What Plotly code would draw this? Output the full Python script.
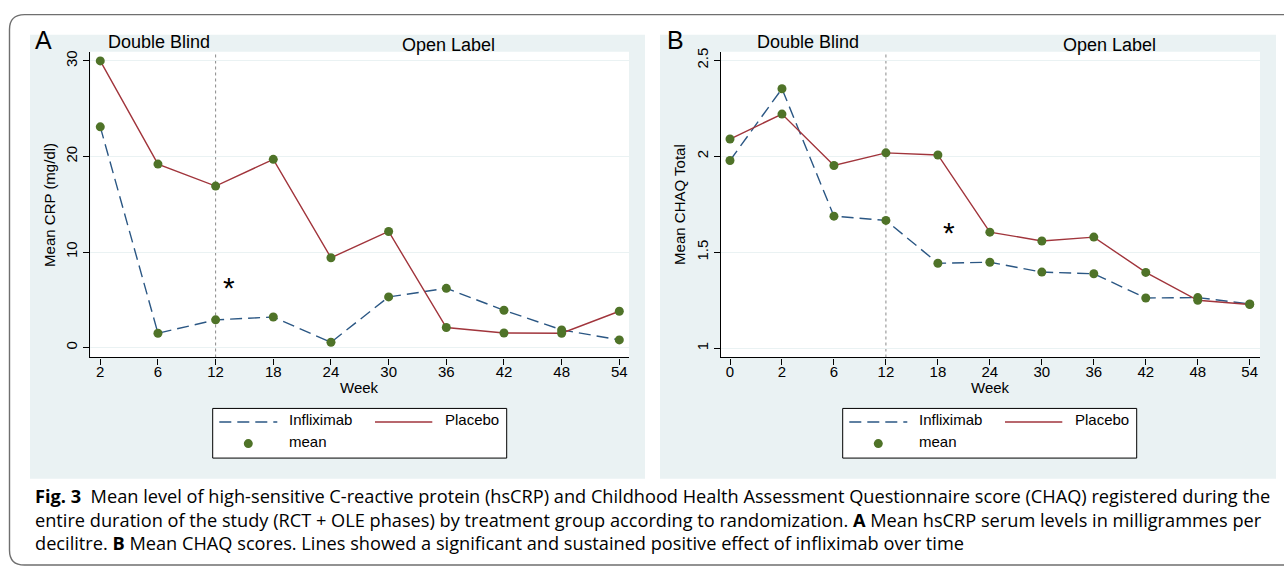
import plotly.graph_objects as go

W, H = 1284, 569

# ---------------- data ----------------
weeks_A = ["2", "6", "12", "18", "24", "30", "36", "42", "48", "54"]
crp_infliximab = [23.1, 1.5, 2.9, 3.2, 0.55, 5.3, 6.2, 3.9, 1.85, 0.8]
crp_placebo = [30.0, 19.2, 16.9, 19.7, 9.4, 12.15, 2.1, 1.52, 1.5, 3.8]

weeks_B = ["0", "2", "6", "12", "18", "24", "30", "36", "42", "48", "54"]
chaq_infliximab = [1.978, 2.352, 1.688, 1.666, 1.443, 1.448, 1.397, 1.388, 1.262, 1.264, 1.231]
chaq_placebo = [2.09, 2.22, 1.952, 2.018, 2.007, 1.605, 1.559, 1.579, 1.395, 1.25, 1.228]

ticks_A = [0, 10, 20, 30]
ticktext_A = ["0", "10", "20", "30"]
ticks_B = [1, 1.5, 2, 2.5]
ticktext_B = ["1", "1.5", "2", "2.5"]

series_names = ["Infliximab", "Placebo", "mean"]
phase_labels = ["Double Blind", "Open Label"]
ylabels = ["Mean CRP (mg/dl)", "Mean CHAQ Total"]
xlabel = "Week"
split_week = "12"

caption_lines = [
    "<b>Fig. 3</b>  Mean level of high-sensitive C-reactive protein (hsCRP) and Childhood Health Assessment Questionnaire score (CHAQ) registered during the",
    "entire duration of the study (RCT + OLE phases) by treatment group according to randomization. <b>A</b> Mean hsCRP serum levels in milligrammes per",
    "decilitre. <b>B</b> Mean CHAQ scores. Lines showed a significant and sustained positive effect of infliximab over time",
]

# ---------------- style ----------------
BLUE = "#2b5784"
RED = "#a1353c"
GREEN = "#4f7328"
PANEL = "#eaf2f3"
FONT = "Liberation Sans, Arial, sans-serif"
CAPFONT = "Open Sans, sans-serif"


def px(x):
    return x / W


def py(y):
    return 1 - y / H


fig = go.Figure()

panels = [
    dict(xa="x", ya="y", weeks=weeks_A, inf=crp_infliximab, pla=crp_placebo),
    dict(xa="x2", ya="y2", weeks=weeks_B, inf=chaq_infliximab, pla=chaq_placebo),
]

for p in panels:
    fig.add_trace(go.Scatter(x=p["weeks"], y=p["inf"], mode="lines", name=series_names[0],
                             line=dict(color=BLUE, width=1.4, dash="12px,6px"),
                             xaxis=p["xa"], yaxis=p["ya"], showlegend=False))
    fig.add_trace(go.Scatter(x=p["weeks"], y=p["pla"], mode="lines", name=series_names[1],
                             line=dict(color=RED, width=1.4),
                             xaxis=p["xa"], yaxis=p["ya"], showlegend=False))
    fig.add_trace(go.Scatter(x=p["weeks"] + p["weeks"], y=p["inf"] + p["pla"], mode="markers",
                             name=series_names[2],
                             marker=dict(color=GREEN, size=9, line=dict(width=0)),
                             xaxis=p["xa"], yaxis=p["ya"], showlegend=False))

ydom = [py(356), py(48)]
axis_common = dict(showline=True, linecolor="black", linewidth=1.2, mirror=False,
                   ticks="outside", ticklen=6, tickwidth=1.2, tickcolor="black",
                   tickfont=dict(family=FONT, size=15, color="black"), zeroline=False)

fig.update_layout(
    width=W, height=H,
    margin=dict(l=0, r=0, t=0, b=0),
    paper_bgcolor="white", plot_bgcolor="rgba(0,0,0,0)",
    showlegend=False,
    xaxis=dict(domain=[px(90.3), px(629)], type="category", range=[-0.173, 9.168],
               showgrid=False, anchor="y", ticklabelstandoff=-6, **axis_common),
    yaxis=dict(domain=ydom, range=[-1.04, 30.97], tickvals=ticks_A, ticktext=ticktext_A,
               tickangle=-90, showgrid=True, gridcolor=PANEL, gridwidth=1.2, anchor="x",
               **axis_common),
    xaxis2=dict(domain=[px(720.7), px(1260)], type="category", range=[-0.179, 10.198],
                showgrid=False, anchor="y2", ticklabelstandoff=-6, **axis_common),
    yaxis2=dict(domain=ydom, range=[0.952, 2.545], tickvals=ticks_B, ticktext=ticktext_B,
                tickangle=-90, showgrid=True, gridcolor=PANEL, gridwidth=1.2, anchor="x2",
                **axis_common),
)

shapes = []
# outer rounded frame (open on the right)
r = 15
fx, ft, fb = 9.5, 10.7, 565
frame_path = (f"M {px(1300)},{py(ft)} L {px(fx + r)},{py(ft)} "
              f"Q {px(fx)},{py(ft)} {px(fx)},{py(ft + r)} "
              f"L {px(fx)},{py(fb - r)} Q {px(fx)},{py(fb)} {px(fx + r)},{py(fb)} "
              f"L {px(1300)},{py(fb)}")
shapes.append(dict(type="path", xref="paper", yref="paper", path=frame_path,
                   line=dict(color="#6f6f6f", width=1.4), layer="below"))
# panel backgrounds
for x0, x1 in [(30, 645), (660, 1276)]:
    shapes.append(dict(type="rect", xref="paper", yref="paper", x0=px(x0), x1=px(x1),
                       y0=py(478), y1=py(31), fillcolor=PANEL, line=dict(width=0), layer="below"))
# white plot areas
for x0, x1 in [(90.3, 629), (720.7, 1260)]:
    shapes.append(dict(type="rect", xref="paper", yref="paper", x0=px(x0), x1=px(x1),
                       y0=py(356), y1=py(48), fillcolor="white", line=dict(width=0), layer="below"))
# dotted phase separators
for xa, weeks in [("x", weeks_A), ("x2", weeks_B)]:
    idx = weeks.index(split_week)
    shapes.append(dict(type="line", xref=xa, yref=xa.replace("x", "y") + " domain",
                       x0=idx, x1=idx, y0=0, y1=1,
                       line=dict(color="#8a8a8a", width=1, dash="dot"), layer="below"))

annotations = []


def text(x, y, s, size=15, xanchor="center", angle=0, family=FONT, shift=True, align="center"):
    yy = y - 0.15 * size if shift else y
    annotations.append(dict(xref="paper", yref="paper", x=px(x), y=py(yy), text=s,
                            showarrow=False, xanchor=xanchor, yanchor="middle", align=align,
                            textangle=angle, font=dict(family=family, size=size, color="black")))


# panel decorations
for off, letter, ylabel, pcx, ast in [(0, "A", ylabels[0], 359.7, (229, 286)),
                                       (630, "B", ylabels[1], 990.3, (948.6, 230))]:
    text(43.5 + off * (675 - 43.5) / 630, 40.5, letter, size=25)
    text(158.5 + off * (807.5 - 158.5) / 630, 40.5, phase_labels[0], size=18)
    text(448 + off * (1109.8 - 448) / 630, 44, phase_labels[1], size=18)
    text(49.3 + off, 202, ylabel, size=15, angle=-90, shift=False)
    text(pcx, 388, xlabel, size=15)
    text(ast[0], ast[1], "*", size=30, shift=False)

    # legend box
    bx0, bx1, by0, by1 = 212.7 + off, 506.7 + off, 407.3, 457.3
    shapes.append(dict(type="rect", xref="paper", yref="paper", x0=px(bx0), x1=px(bx1),
                       y0=py(by1), y1=py(by0), fillcolor="white",
                       line=dict(color="black", width=1)))
    shapes.append(dict(type="line", xref="paper", yref="paper", x0=px(219.3 + off), x1=px(277.3 + off),
                       y0=py(421), y1=py(421), line=dict(color=BLUE, width=1.4, dash="12px,6px")))
    shapes.append(dict(type="line", xref="paper", yref="paper", x0=px(375 + off), x1=px(432.3 + off),
                       y0=py(421), y1=py(421), line=dict(color=RED, width=1.4)))
    shapes.append(dict(type="circle", xref="paper", yref="paper",
                       x0=px(248.3 + off - 4.5), x1=px(248.3 + off + 4.5),
                       y0=py(442.7 + 4.5), y1=py(442.7 - 4.5),
                       fillcolor=GREEN, line=dict(width=0)))
    text(286.7 + off, 421, series_names[0], xanchor="left")
    text(442.7 + off, 421, series_names[1], xanchor="left")
    text(286.7 + off, 442.7, series_names[2], xanchor="left")

# caption (one multi-line text block)
text(33, 519.5, "<br>".join(caption_lines), size=18.2, xanchor="left",
     family=CAPFONT, shift=False, align="left")

fig.update_layout(shapes=shapes, annotations=annotations)
fig.write_html("out.html")
